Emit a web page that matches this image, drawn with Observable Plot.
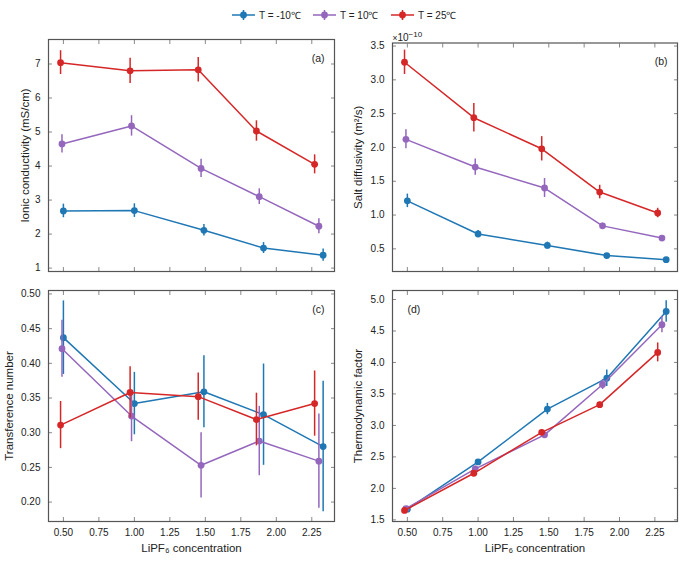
<!DOCTYPE html>
<html><head><meta charset="utf-8">
<script src="https://cdn.jsdelivr.net/npm/d3@7"></script>
<script src="https://cdn.jsdelivr.net/npm/@observablehq/plot@0.6"></script>
<style>
body{margin:0;background:#fff;font-family:"Liberation Sans",Arial,sans-serif;}
#fig{position:relative;width:693px;height:562px;overflow:hidden;}
.panel{position:absolute;}
.panel g[aria-label="y-axis label"] text, .panel g[aria-label="x-axis label"] text{font-size:11.5px;}
#legend{position:absolute;top:8px;left:0;width:693px;height:18px;}
.item{position:absolute;top:0;display:flex;align-items:center;font-size:10px;color:#222;white-space:nowrap;}
.item svg{margin-right:4px;}
</style></head><body>
<div id="fig"><div id="legend"></div></div>
<script>
// Series
const seriesNames = ["T = -10℃", "T = 10℃", "T = 25℃"];
const seriesColors = ["#1f77b4", "#9467bd", "#d62728"];
// LiPF6 concentration per series
const concCold = [0.50, 1.00, 1.49, 1.91, 2.33];
const concMid  = [0.49, 0.98, 1.47, 1.88, 2.30];
const concWarm = [0.48, 0.97, 1.45, 1.86, 2.27];
// (a) Ionic conductivity (mS/cm)
const condCold = [2.68, 2.69, 2.11, 1.59, 1.38];
const condColdErr = [0.20, 0.20, 0.17, 0.16, 0.18];
const condMid = [4.65, 5.18, 3.93, 3.10, 2.23];
const condMidErr = [0.27, 0.30, 0.27, 0.23, 0.22];
const condWarm = [7.04, 6.80, 6.83, 5.03, 4.05];
const condWarmErr = [0.35, 0.37, 0.36, 0.30, 0.28];
// (b) Salt diffusivity (x1e-10 m^2/s)
const diffCold = [1.21, 0.72, 0.55, 0.40, 0.34];
const diffColdErr = [0.10, 0.05, 0.05, 0.02, 0.02];
const diffMid = [2.12, 1.71, 1.40, 0.84, 0.66];
const diffMidErr = [0.14, 0.12, 0.14, 0.04, 0.03];
const diffWarm = [3.26, 2.44, 1.98, 1.34, 1.03];
const diffWarmErr = [0.18, 0.21, 0.18, 0.10, 0.07];
// (c) Transference number
const tranCold = [0.437, 0.342, 0.359, 0.326, 0.280];
const tranColdErr = [0.053, 0.045, 0.052, 0.073, 0.094];
const tranMid = [0.421, 0.324, 0.253, 0.288, 0.259];
const tranMidErr = [0.041, 0.037, 0.047, 0.050, 0.068];
const tranWarm = [0.311, 0.358, 0.352, 0.319, 0.342];
const tranWarmErr = [0.034, 0.037, 0.034, 0.038, 0.047];
// (d) Thermodynamic factor
const thermCold = [1.67, 2.42, 3.26, 3.75, 4.81];
const thermColdErr = [0.04, 0.04, 0.09, 0.13, 0.17];
const thermMid = [1.68, 2.31, 2.85, 3.65, 4.60];
const thermMidErr = [0.03, 0.04, 0.04, 0.08, 0.13];
const thermWarm = [1.65, 2.24, 2.89, 3.33, 4.16];
const thermWarmErr = [0.03, 0.04, 0.04, 0.04, 0.15];
// Ticks
const xTicks = [0.50, 0.75, 1.00, 1.25, 1.50, 1.75, 2.00, 2.25];
const condTicks = [1, 2, 3, 4, 5, 6, 7];
const diffTicks = [0.5, 1.0, 1.5, 2.0, 2.5, 3.0, 3.5];
const tranTicks = [0.20, 0.25, 0.30, 0.35, 0.40, 0.45, 0.50];
const thermTicks = [1.5, 2.0, 2.5, 3.0, 3.5, 4.0, 4.5, 5.0];

const concs = [concCold, concMid, concWarm];
function build(vals, errs) {
  const rows = [];
  vals.forEach((v, s) => v.forEach((y, i) => rows.push({series: seriesNames[s], x: concs[s][i], y, e: errs[s][i]})));
  return rows;
}

const fig = document.getElementById("fig");
const FONT = "'Liberation Sans', Arial, sans-serif";

function panel(o) {
  const rows = build(o.vals, o.errs);
  const marks = [];
  seriesNames.forEach((name, s) => {
    const d = rows.filter(r => r.series === name);
    marks.push(
      Plot.ruleX(d, {x: "x", y1: r => r.y - r.e, y2: r => r.y + r.e, stroke: "series", strokeWidth: 1.5}),
      Plot.line(d, {x: "x", y: "y", stroke: "series", strokeWidth: 1.5}),
      Plot.dot(d, {x: "x", y: "y", fill: "series", r: 3.4})
    );
  });
  const p = Plot.plot({
    width: o.width, height: o.height,
    marginLeft: o.ml, marginRight: o.mr, marginTop: o.mt, marginBottom: o.mb,
    x: {domain: [0.395, 2.41]},
    y: {domain: o.yDomain},
    color: {domain: seriesNames, range: seriesColors},
    style: {fontFamily: FONT, fontSize: "10px", color: "#222", background: "transparent", overflow: "visible"},
    marks: [
      Plot.axisX({anchor: "bottom", ticks: xTicks, tickSize: -4, tickPadding: 11, stroke: "#888",
        tickFormat: o.showX ? d3.format(".2f") : () => "",
        label: o.showX ? "LiPF₆ concentration" : null, labelAnchor: "center", labelArrow: "none", labelOffset: 30}),
      Plot.axisX({anchor: "top", ticks: xTicks, tickSize: -4, stroke: "#888", tickFormat: () => "", label: null}),
      Plot.axisY({anchor: "left", ticks: o.yTicks, tickSize: -4, tickPadding: 12, stroke: "#888",
        tickFormat: d3.format(o.yFormat), label: o.yLabel, labelAnchor: "center", labelArrow: "none", labelOffset: o.lo}),
      Plot.axisY({anchor: "right", ticks: o.yTicks, tickSize: -4, stroke: "#888", tickFormat: () => "", label: null}),
      ...marks,
      Plot.frame({stroke: "#555", strokeWidth: 1.2}),
      Plot.text([o.letter], {frameAnchor: o.letterAnchor, dx: o.letterDx, dy: 15, fontSize: 10.5, fill: "#222"}),
      ...(o.extra || [])
    ]
  });
  p.classList.add("panel");
  p.style.left = o.left + "px";
  p.style.top = o.top + "px";
  fig.appendChild(p);
  return p;
}

panel({left: 0, top: 0, width: 345, height: 282, ml: 48, mr: 11, mt: 39, mb: 11,
  vals: [condCold, condMid, condWarm], errs: [condColdErr, condMidErr, condWarmErr],
  yDomain: [0.9, 7.72], yTicks: condTicks, yFormat: "d", yLabel: "Ionic conductivity (mS/cm)", lo: 28,
  letter: "(a)", letterAnchor: "top-right", letterDx: -10, showX: false});
const pb = panel({left: 343, top: 0, width: 350, height: 282, ml: 49, mr: 16, mt: 42.5, mb: 11,
  vals: [diffCold, diffMid, diffWarm], errs: [diffColdErr, diffMidErr, diffWarmErr],
  yDomain: [0.165, 3.545], yTicks: diffTicks, yFormat: ".1f", yLabel: "Salt diffusivity (m²/s)", lo: 39,
  letter: "(b)", letterAnchor: "top-right", letterDx: -10, showX: false,
  extra: [Plot.text(["×10−10"], {frameAnchor: "top-left", dy: -9, dx: 0, textAnchor: "start", fontSize: 10, fill: "#222"})]});
panel({left: 0, top: 280, width: 345, height: 282, ml: 48, mr: 11, mt: 10, mb: 41,
  vals: [tranCold, tranMid, tranWarm], errs: [tranColdErr, tranMidErr, tranWarmErr],
  yDomain: [0.172, 0.505], yTicks: tranTicks, yFormat: ".2f", yLabel: "Transference number", lo: 44,
  letter: "(c)", letterAnchor: "top-right", letterDx: -10, showX: true});
panel({left: 343, top: 280, width: 350, height: 282, ml: 49, mr: 16, mt: 10, mb: 41,
  vals: [thermCold, thermMid, thermWarm], errs: [thermColdErr, thermMidErr, thermWarmErr],
  yDomain: [1.474, 5.143], yTicks: thermTicks, yFormat: ".1f", yLabel: "Thermodynamic factor", lo: 39,
  letter: "(d)", letterAnchor: "top-left", letterDx: 15, showX: true});

// Superscript exponent for the (b) multiplier
pb.querySelectorAll("text").forEach(t => {
  if (t.textContent === "×10−10") {
    t.textContent = "";
    const ns = "http://www.w3.org/2000/svg";
    const a = document.createElementNS(ns, "tspan"); a.setAttribute("font-size", "8.5"); a.textContent = "×";
    const b = document.createElementNS(ns, "tspan"); b.textContent = "10";
    const c = document.createElementNS(ns, "tspan"); c.setAttribute("font-size", "8"); c.setAttribute("dy", "-4"); c.textContent = "−10";
    t.append(a, b, c);
  }
});

// Legend
const legend = document.getElementById("legend");
const legendX = [232, 313, 391];
seriesNames.forEach((name, i) => {
  const item = document.createElement("div");
  item.className = "item";
  item.style.left = legendX[i] + "px";
  const c = seriesColors[i];
  item.innerHTML = `<svg width="23" height="14"><line x1="0" y1="7" x2="23" y2="7" stroke="${c}" stroke-width="1.5"/><line x1="11.5" y1="2" x2="11.5" y2="12" stroke="${c}" stroke-width="1.5"/><circle cx="11.5" cy="7" r="3.4" fill="${c}"/></svg><span>${name}</span>`;
  legend.appendChild(item);
});
</script>
</body></html>
